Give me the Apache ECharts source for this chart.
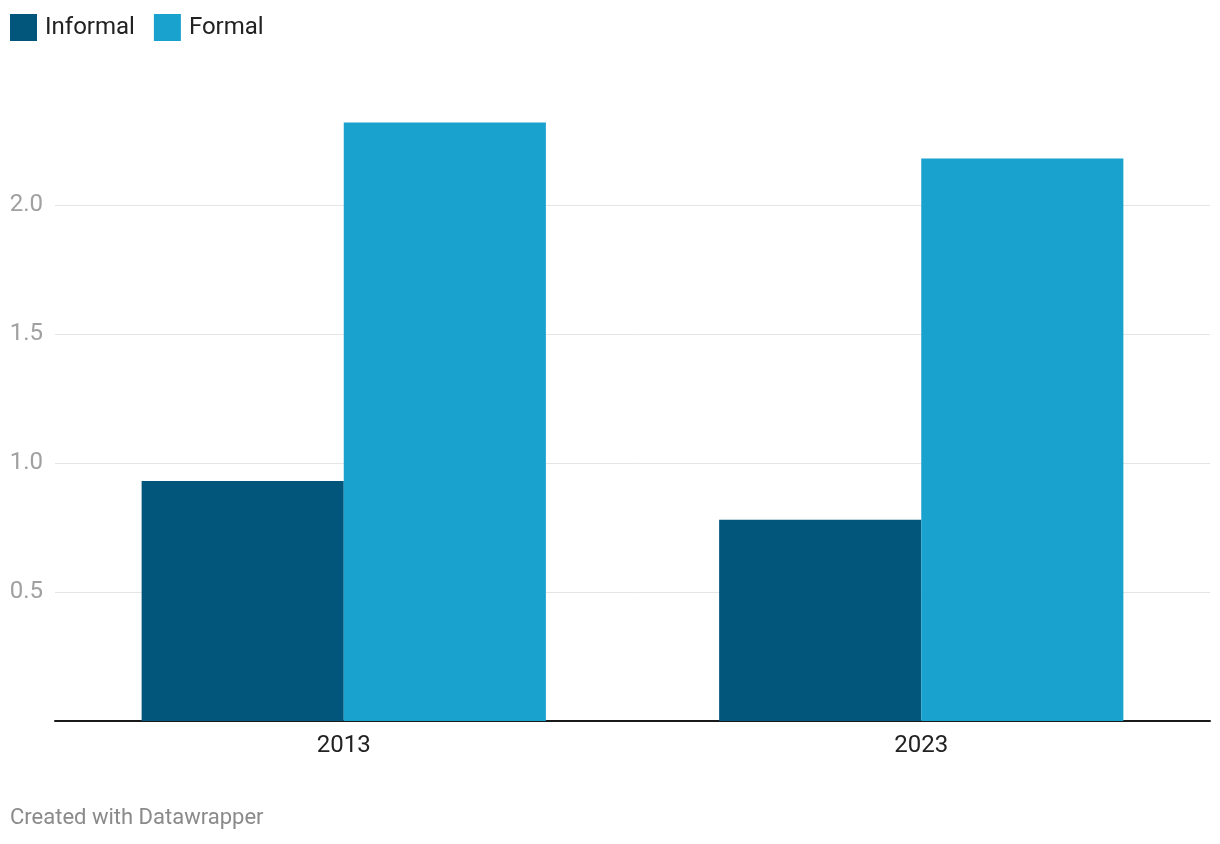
<!DOCTYPE html>
<html>
<head>
<meta charset="utf-8">
<script src="https://cdn.jsdelivr.net/npm/echarts@6/dist/echarts.min.js"></script>
<style>
html,body{margin:0;padding:0;background:#fff;}
#chart{width:1220px;height:844px;}
</style>
</head>
<body>
<div id="chart"></div>
<script>
const categories = ['2013', '2023'];
const informal = [0.93, 0.78];
const formal = [2.32, 2.18];
const seriesNames = ['Informal', 'Formal'];

const chart = echarts.init(document.getElementById('chart'));
const gridColors = ['#e5e5e5','#e5e5e5','#e5e5e5','#e5e5e5','#e5e5e5','rgba(0,0,0,0)'];
chart.setOption({
  animation: false,
  textStyle: { fontFamily: 'Roboto' },
  legend: {
    left: 10, top: 14, padding: 0, itemWidth: 27, itemHeight: 27, itemGap: 19,
    icon: 'rect',
    textStyle: { fontSize: 24, color: '#222', fontFamily: 'Roboto', padding: [0,0,0,3] },
    data: seriesNames
  },
  grid: { left: 55, right: 10, top: 76, bottom: 123, containLabel: false },
  xAxis: {
    type: 'category', data: categories,
    axisLine: { lineStyle: { color: '#1a1a1a', width: 2 } },
    axisTick: { show: false },
    axisLabel: { fontSize: 24, color: '#222', margin: 13, fontFamily: 'Roboto' }
  },
  yAxis: {
    type: 'value', min: 0, max: 2.5, interval: 0.5,
    axisLine: { show: false }, axisTick: { show: false },
    splitLine: { lineStyle: { color: gridColors, width: 1 } },
    axisLabel: {
      fontSize: 24, color: '#a0a0a0', margin: 12, fontFamily: 'Roboto',
      formatter: v => (v === 0 || v >= 2.5) ? '' : v.toFixed(1)
    }
  },
  series: [
    { name: seriesNames[0], type: 'bar', data: informal, barGap: '0%', barCategoryGap: '30%',
      itemStyle: { color: '#02557b' } },
    { name: seriesNames[1], type: 'bar', data: formal, barGap: '0%', barCategoryGap: '30%',
      itemStyle: { color: '#1aa2cf' } }
  ],
  graphic: [{
    type: 'text', left: 10, top: 807,
    style: { text: 'Created with Datawrapper', fontSize: 22, fill: '#8a8a8a', fontFamily: 'Roboto' }
  }]
});
</script>
</body>
</html>
